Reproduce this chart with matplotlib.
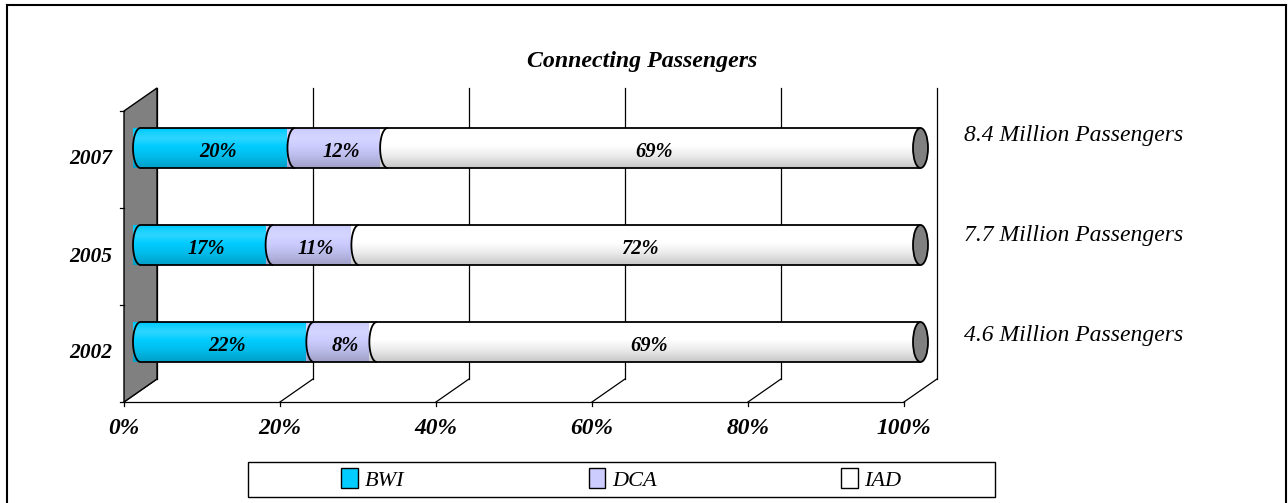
import numpy as np
import matplotlib
matplotlib.use("Agg")
import matplotlib.pyplot as plt
from matplotlib.colors import to_rgb
from matplotlib.patches import Ellipse, Patch, Polygon, Rectangle
from matplotlib.lines import Line2D

# data
years = ["2002", "2005", "2007"]
bwi = [22, 17, 20]
dca = [8, 11, 12]
iad = [69, 72, 69]
passengers = ["4.6 Million Passengers", "7.7 Million Passengers", "8.4 Million Passengers"]
airports = ["BWI", "DCA", "IAD"]
airport_colors = ["#00CCFF", "#CCCCFF", "#FFFFFF"]
pct_ticks = [0, 20, 40, 60, 80, 100]
title = "Connecting Passengers"

W, H = 1288, 503
plt.rcParams["font.family"] = ["Liberation Serif", "DejaVu Serif"]

fig = plt.figure(figsize=(W / 100, H / 100), dpi=100)
ax = fig.add_axes([140.5 / W, 1 - 390.5 / H, 780 / W, 291 / H])

# pixel -> data unit helpers for the fake 3d depth
PX_X = 100 / 780
PX_Y = 3 / 291
DX = 16.5 * PX_X
DY = 11.5 * PX_Y
BAR_H = 40 * PX_Y
CAP = 7.5 * PX_X

PROFILE_T = [0.0, 0.3, 0.55, 0.75, 0.9, 1.0]
PROFILE_S = [-0.22, -0.08, 0.0, 0.18, 0.08, -0.05]


def shade_column(color, n=80):
    base = np.array(to_rgb(color))
    t = np.linspace(0, 1, n)
    s = np.interp(t, PROFILE_T, PROFILE_S)[:, None]
    out = np.where(s < 0, base * (1 + s), base + (1 - base) * s)
    return out[:, None, :]


def draw_segment(a, b, y, color):
    th = np.linspace(np.pi / 2, 3 * np.pi / 2, 40)
    arc = np.column_stack([a + CAP * np.cos(th), y + BAR_H / 2 * np.sin(th)])
    outline = np.vstack([[[b, y + BAR_H / 2]], arc, [[b, y - BAR_H / 2]]])
    poly = Polygon(outline, closed=True, facecolor="none", edgecolor="none")
    ax.add_patch(poly)
    im = ax.imshow(shade_column(color), extent=(a - CAP, b, y - BAR_H / 2, y + BAR_H / 2),
                   origin="lower", aspect="auto", interpolation="bilinear", zorder=3)
    im.set_clip_path(poly)
    ax.plot(outline[:, 0], outline[:, 1], color="black", lw=1.3, zorder=4, solid_capstyle="butt")


# back wall grid + floor
y0, y1 = -0.5, 2.5
for v in pct_ticks:
    ax.plot([v + DX, v + DX], [y0 + DY, y1 + DY], color="black", lw=0.9, zorder=1)
    ax.plot([v + DX, v - DX], [y0 + DY, y0 - DY], color="black", lw=0.9, zorder=1)
    ax.plot([v - DX, v - DX], [y0 - DY, y0 - DY - 4 * PX_Y], color="black", lw=0.9, zorder=1)
    ax.text(v - DX, y0 - DY - 26 * PX_Y, f"{v}%", ha="center", va="center",
            fontsize=16.8, fontweight="bold", fontstyle="italic")
ax.plot([-DX, 100 - DX], [y0 - DY, y0 - DY], color="black", lw=0.9, zorder=1)

# left side wall
ax.add_patch(Polygon([(-DX, y0 - DY), (-DX, y1 - DY), (DX, y1 + DY), (DX, y0 + DY)],
                     closed=True, facecolor="#808080", edgecolor="black", lw=1.0, zorder=2))
for k in range(4):
    yy = y0 + k - DY
    ax.plot([-DX - 4 * PX_X, -DX], [yy, yy], color="black", lw=0.9, zorder=2)

# cylinders
for i, year in enumerate(years):
    vals = np.array([bwi[i], dca[i], iad[i]], dtype=float)
    vals = vals / vals.sum() * 100
    starts = np.concatenate([[0], np.cumsum(vals)[:-1]])
    labels = [bwi[i], dca[i], iad[i]]
    for a, w, c, lab in zip(starts, vals, airport_colors, labels):
        draw_segment(a, a + w, i, c)
        ax.text(a + w / 2, i - 4 * PX_Y, f"{lab}%", ha="center", va="center",
                fontsize=14.8, fontweight="bold", fontstyle="italic", zorder=6)
    ax.add_patch(Ellipse((100, i), 2 * CAP, BAR_H, facecolor="#808080",
                         edgecolor="black", lw=1.3, zorder=5))
    ax.text(-DX - 12 * PX_X, i - DY, year, ha="right", va="center",
            fontsize=15.5, fontweight="bold", fontstyle="italic")
    ax.text(105.6, 0.062 + 1.031 * i, passengers[i], ha="left", va="center",
            fontsize=17, fontstyle="italic")

ax.set_xlim(0, 100)
ax.set_ylim(y0, y1)
ax.axis("off")
for art in ax.get_children():
    art.set_clip_on(False)

fig.text(642 / W, 1 - 62 / H, title, ha="center", va="center",
         fontsize=17.2, fontweight="bold", fontstyle="italic")

# legend box
fig.add_artist(Rectangle((248 / W, 1 - 497 / H), 747 / W, 35 / H, transform=fig.transFigure,
                         facecolor="white", edgecolor="black", lw=1.0))
handles = [Patch(facecolor=c, edgecolor="black", lw=1.0) for c in airport_colors]
fig.legend(handles, airports, loc="center", bbox_to_anchor=(621.5 / W, 1 - 479.5 / H),
           ncol=3, frameon=False, handlelength=0.75, handleheight=0.95, handletextpad=0.3,
           columnspacing=8.3, prop={"style": "italic", "size": 16})

# outer chart border
fig.add_artist(Line2D([7 / W, 7 / W], [0, 1 - 4.5 / H], transform=fig.transFigure, color="black", lw=1.5))
fig.add_artist(Line2D([7 / W, 1286 / W], [1 - 4.5 / H, 1 - 4.5 / H], transform=fig.transFigure, color="black", lw=1.5))
fig.add_artist(Line2D([1286 / W, 1286 / W], [0, 1 - 4.5 / H], transform=fig.transFigure, color="black", lw=1.5))

fig.savefig("out.png", dpi=100)
